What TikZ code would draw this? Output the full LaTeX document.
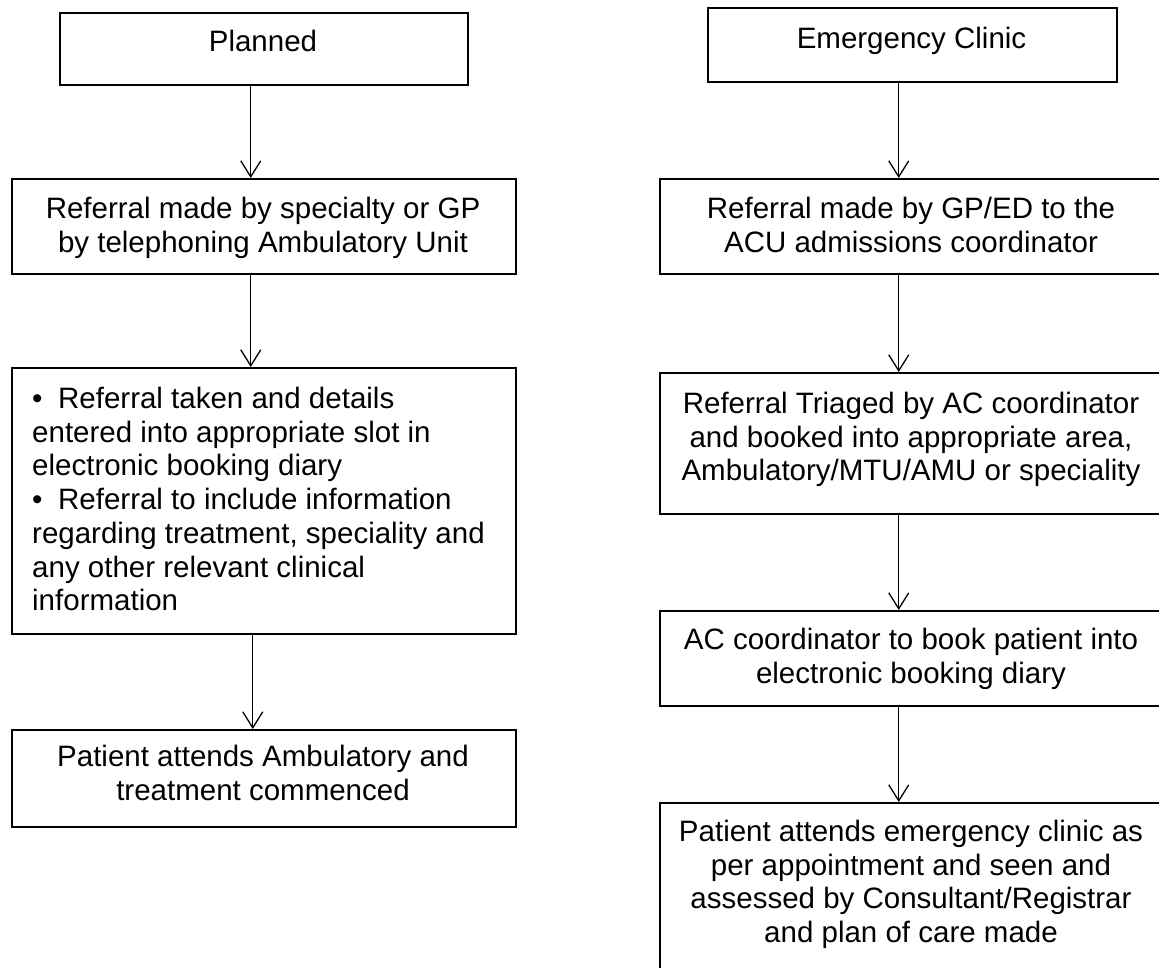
\documentclass[tikz,border=0pt]{standalone}
\usepackage{fontspec}
\setmainfont{Liberation Sans}
\usetikzlibrary{arrows.meta}
\begin{document}
\begin{tikzpicture}[x=1pt,y=-1pt,
  box/.style={draw=black, line width=1.5pt, rectangle, inner sep=0pt, anchor=north west},
  txt/.style={inner sep=0pt, anchor=north, align=center, font=\fontsize{29.5}{33.7}\selectfont},
  arr/.style={line width=1.3pt, -{Straight Barb[length=16pt,width=20pt]}}]
\useasboundingbox (0,0) rectangle (1159,967);
\clip (0,0) rectangle (1159,967);

% Planned pathway (left column)
\node[box, minimum width=408pt, minimum height=72pt] (p1) at (59,12) {};
\node[box, minimum width=504pt, minimum height=95pt] (p2) at (11,178) {};
\node[box, minimum width=504pt, minimum height=266pt] (p3) at (11,367) {};
\node[box, minimum width=504pt, minimum height=97pt] (p4) at (11,729) {};

\node[txt] (p1t) at (263,30) {Planned};
\node[txt] (p2t) at (263,197) {Referral made by specialty or GP\\by telephoning Ambulatory Unit};
\node[txt, anchor=north west, align=left] (p3t) at (32,387)
  {•\hspace{0.53em}Referral taken and details\\
   entered into appropriate slot in\\
   electronic booking diary\\
   •\hspace{0.53em}Referral to include information\\
   regarding treatment, speciality and\\
   any other relevant clinical\\
   information};
\node[txt] (p4t) at (263,745) {Patient attends Ambulatory and\\treatment commenced};

% Emergency clinic pathway (right column)
\node[box, minimum width=409pt, minimum height=74pt] (e1) at (707,7) {};
\node[box, minimum width=504pt, minimum height=95pt] (r2) at (659,178) {};
\node[box, minimum width=504pt, minimum height=141pt] (r3) at (659,372) {};
\node[box, minimum width=504pt, minimum height=95pt] (r4) at (659,610) {};
\node[box, minimum width=504pt, minimum height=220pt] (r5) at (659,802) {};

\node[txt] (e1t) at (911.5,27) {Emergency Clinic};
\node[txt] (r2t) at (911,197) {Referral made by GP/ED to the\\ACU admissions coordinator};
\node[txt] (r3t) at (911,392) {Referral Triaged by AC coordinator\\and booked into appropriate area,\\Ambulatory/MTU/AMU or speciality};
\node[txt] (r4t) at (911,628) {AC coordinator to book patient into\\electronic booking diary};
\node[txt] (r5t) at (911,820) {Patient attends emergency clinic as\\per appointment and seen and\\assessed by Consultant/Registrar\\and plan of care made};

% Connectors
\draw[arr] ([xshift=-13pt]p1.south) -- ([xshift=-13pt]p2.north);
\draw[arr] ([xshift=-13pt]p2.south) -- ([xshift=-13pt]p3.north);
\draw[arr] ([xshift=-11pt]p3.south) -- ([xshift=-11pt]p4.north);
\draw[arr] ([xshift=-13pt]r2.north |- e1.south) -- ([xshift=-13pt]r2.north);
\draw[arr] ([xshift=-13pt]r2.south) -- ([xshift=-13pt]r3.north);
\draw[arr] ([xshift=-13pt]r3.south) -- ([xshift=-13pt]r4.north);
\draw[arr] ([xshift=-13pt]r4.south) -- ([xshift=-13pt]r5.north);
\end{tikzpicture}
\end{document}
